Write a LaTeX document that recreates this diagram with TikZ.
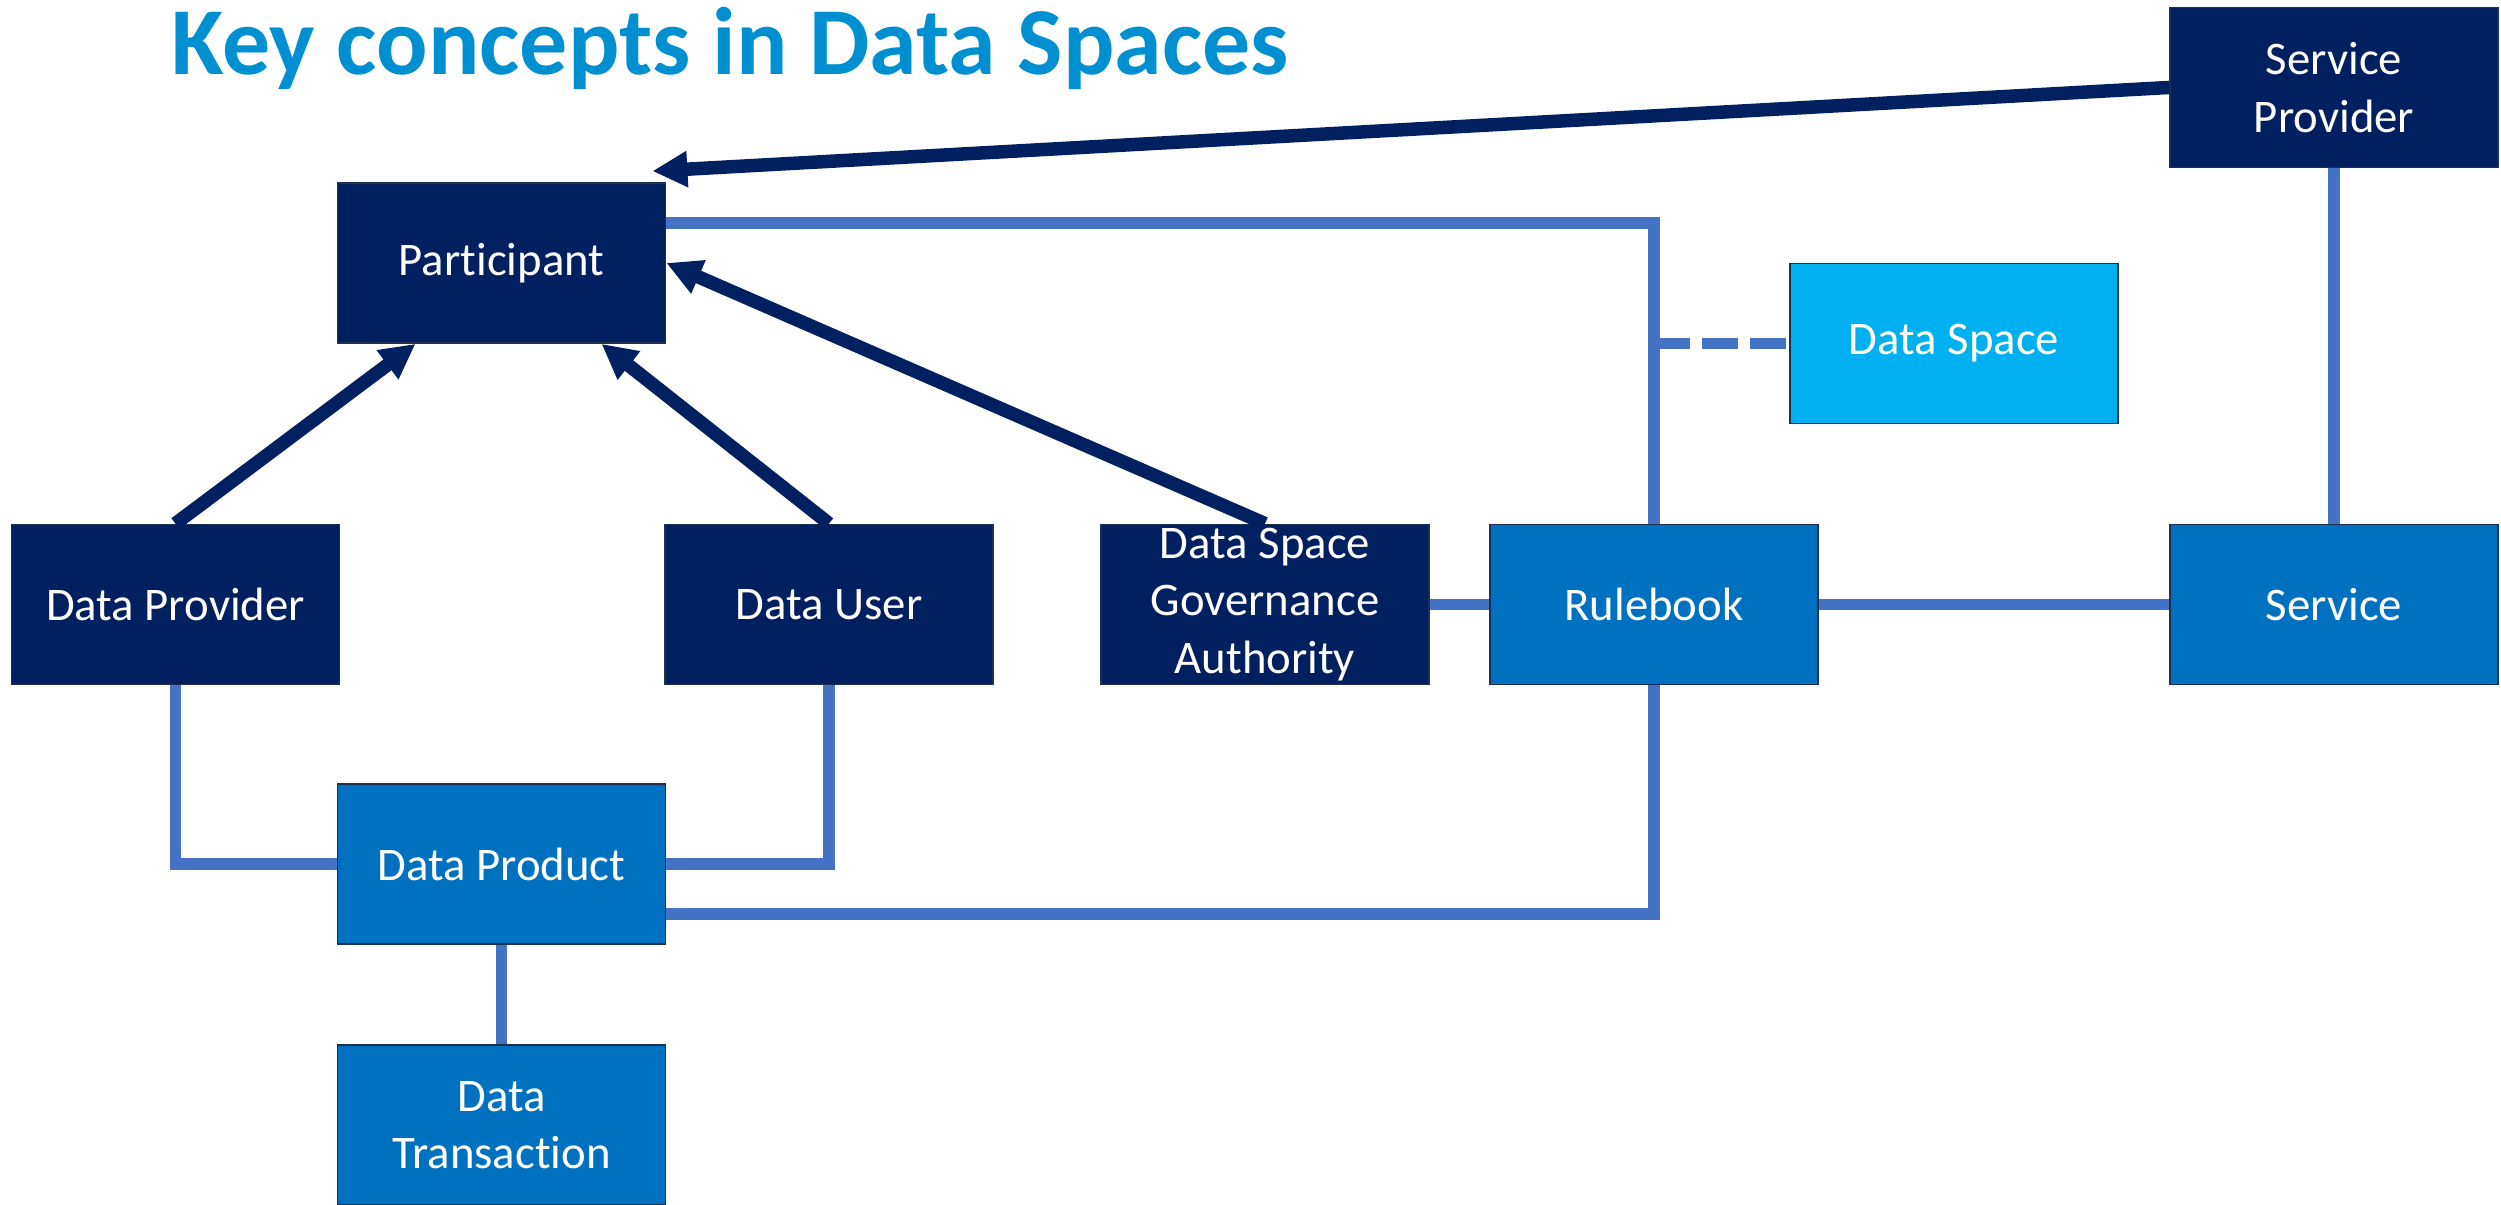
\documentclass[tikz,border=0pt]{standalone}
\usepackage{fontspec}
\setmainfont{Carlito}[Ligatures=NoCommon]
\usetikzlibrary{arrows.meta}
\definecolor{navy}{HTML}{002060}
\definecolor{midblue}{HTML}{0070C0}
\definecolor{skyblue}{HTML}{00B0F0}
\definecolor{linkblue}{HTML}{4472C4}
\definecolor{titleblue}{HTML}{0090D2}
\definecolor{boxline}{HTML}{1F2F4F}
\begin{document}
\begin{tikzpicture}[
                            >={Triangle[length=3.5mm,width=3.4mm]},
                            box/.style={rectangle, draw=boxline, line width=0.5pt, text=white, align=center,
                                        minimum width=3.28cm, minimum height=1.6cm, inner sep=0pt,
                                        font=\fontsize{13.3}{16.3}\selectfont},
                            darkbox/.style={box, fill=navy},
                            bluebox/.style={box, fill=midblue},
                            link/.style={linkblue, line width=1.15mm},
                            isa/.style={->, navy, line width=1.35mm}
                        ]
                        \useasboundingbox (0,0) rectangle (25.01,12.05);
                        % Title
                        \node [anchor=base west, inner sep=0pt, text=titleblue, font=\fontsize{27.3}{32}\selectfont\bfseries] (title) at (1.71,11.30) {Key concepts in Data Spaces};

                        % Blocks
                        \node [darkbox] (Part) at (5.015,9.42) {Participant};
                        \node [darkbox] (SProv) at (23.34,11.175) {Service\\Provider};
                        \node [box, fill=skyblue] (DSpace) at (19.54,8.615) {Data Space};
                        \node [darkbox] (DProv) at (1.755,6.005) {Data Provider};
                        \node [darkbox] (DUser) at (8.29,6.005) {Data User};
                        \node [darkbox] (Gov) at (12.65,6.005) {Data Space\\Governance\\Authority};
                        \node [bluebox] (Rule) at (16.54,6.005) {Rulebook};
                        \node [bluebox] (Serv) at (23.34,6.005) {Service};
                        \node [bluebox] (DProd) at (5.015,3.41) {Data Product};
                        \node [bluebox] (DTrans) at (5.015,0.80) {Data\\Transaction};
                        \coordinate (PartTip) at ([shift={(-0.14,0.11)}]Part.north east);

                        % Connections
                        \draw [link] ([yshift=4mm]Part.east) -| (Rule.north);
                        \draw [link, dash pattern=on 3.6mm off 1.2mm] (Rule.north |- DSpace.west) -- (DSpace.west);
                        \draw [link] (SProv) -- (Serv);
                        \draw [link] (Rule) -- (Serv);
                        \draw [link] (Gov) -- (Rule);
                        \draw [link] (DProv.south) |- (DProd.west);
                        \draw [link] (DUser.south) |- (DProd.east);
                        \draw [link] ([yshift=-5mm]DProd.east) -| (Rule.south);
                        \draw [link] (DProd) -- (DTrans);

                        \draw [isa] (SProv.west) -- (PartTip);
                        \draw [isa] (DProv.north) -- ([xshift=-8.6mm]Part.south);
                        \draw [isa] (DUser.north) -- ([xshift=10mm]Part.south);
                        \draw [isa] (Gov.north) -- (Part.east);
                    \end{tikzpicture}
\end{document}
